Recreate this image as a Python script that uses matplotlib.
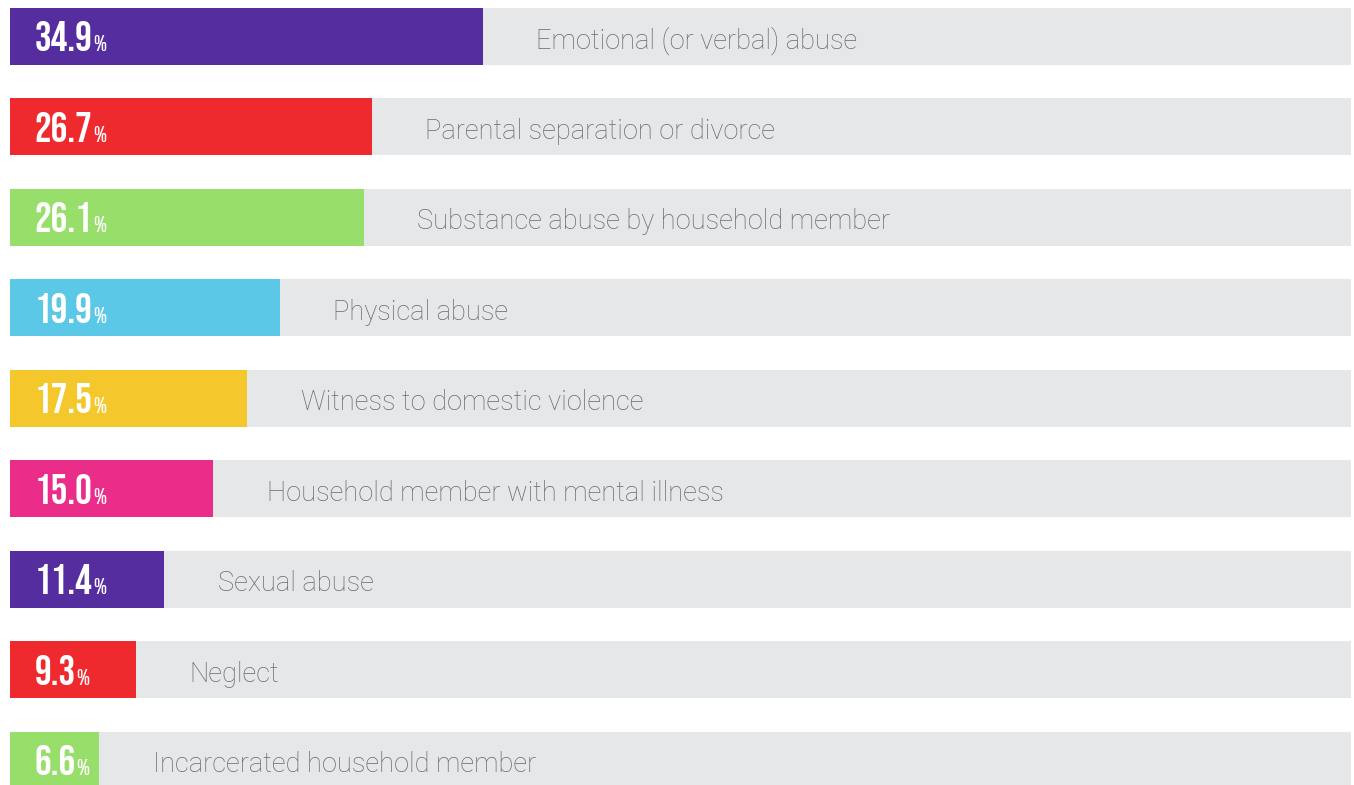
import matplotlib
matplotlib.use("Agg")
import matplotlib.pyplot as plt
from matplotlib import font_manager

categories = [
    "Emotional (or verbal) abuse",
    "Parental separation or divorce",
    "Substance abuse by household member",
    "Physical abuse",
    "Witness to domestic violence",
    "Household member with mental illness",
    "Sexual abuse",
    "Neglect",
    "Incarcerated household member",
]
values = [34.9, 26.7, 26.1, 19.9, 17.5, 15.0, 11.4, 9.3, 6.6]
value_labels = ["34.9", "26.7", "26.1", "19.9", "17.5", "15.0", "11.4", "9.3", "6.6"]
colors = ["#552D9E", "#EE2A2F", "#97DE6A", "#5BC8E8", "#F4C82C",
          "#EB2D8A", "#552D9E", "#EE2A2F", "#97DE6A"]
track_color = "#E6E7E9"
track_max = 99.0

names = {f.name for f in font_manager.fontManager.ttflist}
num_candidates = ["Bebas Neue", "Oswald", "Roboto Condensed", "Archivo Narrow", "Asap Condensed"]
num_font = next((n for n in num_candidates if n in names), "DejaVu Sans")
num_family = [num_font, "DejaVu Sans"]
label_family = ["Roboto", "DejaVu Sans"]
num_weight = "normal" if num_font == "Bebas Neue" else "bold"

W, H = 1354, 785
fig = plt.figure(figsize=(W / 100, H / 100), dpi=100)
ax = fig.add_axes([10 / W, 0, (1351 - 10) / W, 1])

pitch = 90.5
ax.set_xlim(0, track_max)
ax.set_ylim((H - 36.5) / pitch, -36.5 / pitch)
bar_h = 57 / pitch

y = list(range(len(categories)))
ax.barh(y, [track_max] * len(y), height=bar_h, color=track_color, linewidth=0)
ax.barh(y, values, height=bar_h, color=colors, linewidth=0)

for i, (v, lab, cat) in enumerate(zip(values, value_labels, categories)):
    t = ax.annotate(lab, xy=(0, i), xytext=(17.5, 0), textcoords="offset points",
                    ha="left", va="center", color="white", fontsize=30,
                    fontweight=num_weight, family=num_family)
    ax.annotate("%", xy=(1, 0), xycoords=t, xytext=(0.5, 0), textcoords="offset points",
                ha="left", va="bottom", color="white", fontsize=16,
                fontweight=num_weight, family=num_family)
    ax.annotate(cat, xy=(v, i), xytext=(38.5, -3), textcoords="offset points",
                ha="left", va="center", color="#6A6A6A", fontsize=19.6,
                fontweight="light", family=label_family)

ax.axis("off")
fig.savefig("out.png", dpi=100)
